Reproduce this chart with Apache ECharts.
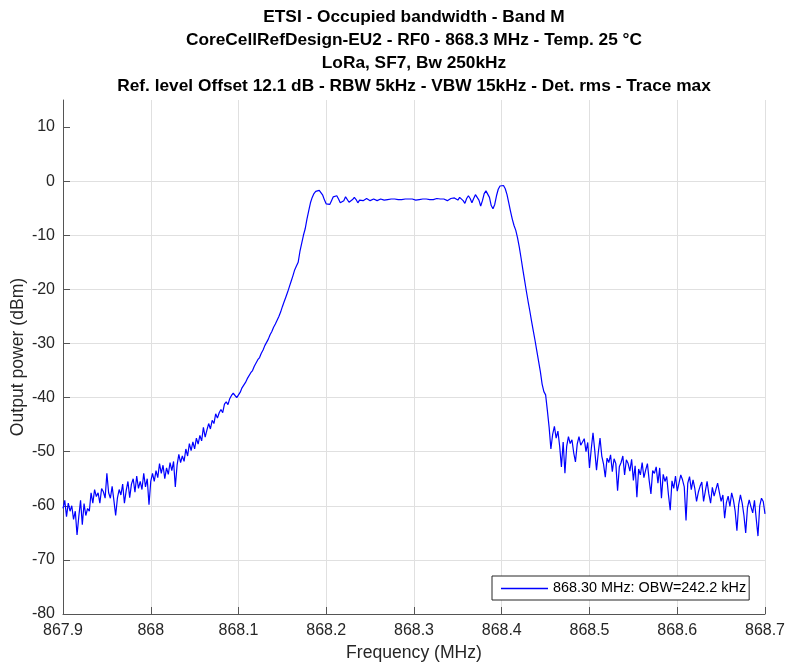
<!DOCTYPE html>
<html>
<head>
<meta charset="utf-8">
<script src="https://cdn.jsdelivr.net/npm/echarts@6/dist/echarts.min.js"></script>
<style>
html,body{margin:0;padding:0;background:#fff;}
#chart{width:787px;height:664px;}
</style>
</head>
<body>
<div id="chart"></div>
<script>
// ---- Data ----
const titleLines = [
  'ETSI - Occupied bandwidth - Band M',
  'CoreCellRefDesign-EU2 - RF0 - 868.3 MHz - Temp. 25 °C',
  'LoRa, SF7, Bw 250kHz',
  'Ref. level Offset 12.1 dB - RBW 5kHz - VBW 15kHz - Det. rms - Trace max'
];
const seriesName = '868.30 MHz: OBW=242.2 kHz';
const xTicks = [867.9, 868, 868.1, 868.2, 868.3, 868.4, 868.5, 868.6, 868.7];
const yTicks = [-80, -70, -60, -50, -40, -30, -20, -10, 0, 10];
// sweep grid: start frequency (MHz) and step (MHz)
const freqStart = 867.9;
const freqStep = 0.002;
// measured power (dBm), one value per sweep point (401 points)
const power = [
 -60.5,-59,-62,-59.5,-61,-60,-62.5,-61,-65.4,-62,
 -59,-63.5,-59.6,-61.8,-60.5,-61,-57.6,-59.5,-57,-58.3,
 -57.6,-59.5,-56.8,-57.4,-58.6,-54,-57.6,-58.6,-56.4,-59,
 -61.8,-58.6,-57,-58,-56,-59.5,-57.2,-55.5,-58.5,-56,
 -55,-57.5,-54.5,-56.8,-55.5,-57,-54,-56.5,-55,-59.8,
 -55.5,-54,-55.5,-53.5,-54.8,-52.2,-54,-52.5,-55,-53,
 -54.2,-52,-53.5,-51.8,-56.5,-52.5,-50.5,-52,-50.8,-51.8,
 -49.5,-50.8,-48.5,-49.8,-48.2,-49.5,-47.5,-48.6,-47,-48,
 -45.5,-47.3,-46,-44.8,-45.8,-44.2,-44.8,-43,-43.8,-42.8,
 -42.2,-42.8,-41.2,-40.8,-41.3,-40.2,-39.6,-39.2,-39.5,-40,
 -40.2,-39,-38.2,-37.7,-37.2,-36.5,-36.2,-35.4,-35,-34.2,
 -33.6,-33,-32.6,-31.8,-31.2,-30.4,-29.8,-29.2,-28.4,-27.8,
 -27,-26.4,-25.7,-25,-24.2,-23.2,-22.3,-21.4,-20.5,-19.5,
 -18.5,-17.5,-16.4,-15.7,-15,-13,-11.5,-10,-8.8,-7,
 -5.5,-4,-3,-2.3,-1.9,-1.7,-1.7,-1.9,-2.6,-3.5,
 -4.2,-4.5,-4.3,-3.6,-2.9,-2.6,-2.7,-3.3,-4,-4.3,
 -3.6,-2.9,-3.2,-3.9,-4.1,-3.4,-3,-3.4,-4,-3.5,
 -3.3,-3.6,-3.3,-3.2,-3.4,-3.6,-3.4,-3.3,-3.4,-3.6,
 -3.4,-3.3,-3.3,-3.5,-3.6,-3.4,-3.3,-3.3,-3.4,-3.3,
 -3.3,-3.4,-3.6,-3.4,-3.3,-3.3,-3.3,-3.3,-3.4,-3.3,
 -3.4,-3.5,-3.7,-3.4,-3.3,-3.3,-3.4,-3.3,-3.3,-3.4,
 -3.6,-3.4,-3.3,-3.2,-3.3,-3.3,-3.4,-3.3,-3.5,-3.6,
 -3.4,-3.2,-3.3,-3.1,-3.4,-3.5,-3.0,-2.9,-3.6,-4.1,
 -3.2,-2.7,-3.2,-4,-3.2,-2.5,-2.4,-3.5,-4.6,-3.6,
 -2.3,-1.8,-1.9,-3,-4.5,-5.1,-4.3,-2.7,-1.5,-0.9,
 -0.7,-0.8,-1.4,-2.5,-4,-5.6,-7,-8.2,-9.1,-10.5,
 -12.2,-14.2,-16.3,-18.3,-20.3,-22.2,-24,-25.9,-27.7,-29.5,
 -31.4,-33.3,-35.2,-37.5,-38.9,-39.5,-42.4,-45.5,-49.5,-46.8,
 -45.3,-47.5,-46.2,-49,-52.8,-48.2,-54,-49,-47.2,-48.5,
 -47.8,-50.2,-51.9,-48.6,-47.2,-48.8,-49,-47.6,-50,-48.3,
 -53,-49.5,-46.5,-49.8,-53.4,-50.2,-47.5,-50.8,-52.3,-54.7,
 -51.2,-52,-50.6,-53.7,-51.3,-52.2,-57.2,-52.8,-52,-50.8,
 -54.3,-51.5,-52.2,-53.6,-51.4,-55.3,-52.6,-58.4,-53.2,-54.3,
 -52,-54.8,-53.4,-52.2,-55.3,-57.8,-53.5,-54,-52.8,-55.8,
 -53,-58.6,-54.2,-55.5,-54.6,-58,-60.8,-55.4,-56.8,-54.5,
 -57.3,-55.8,-54.3,-55.2,-56.5,-62.7,-55.8,-54.6,-57,-55.2,
 -56.8,-59.2,-57.5,-56.4,-55.6,-59.2,-57.3,-55.5,-57.8,-59.5,
 -56.6,-58.2,-57,-55.8,-57.5,-59.2,-58,-62.3,-59.4,-58.2,
 -60.1,-57.6,-58.9,-61,-64.6,-59.8,-58,-59.5,-61.8,-65,
 -60.4,-58.9,-60.2,-61.3,-59,-62.4,-65.6,-60,-58.6,-59.2,
 -61.5
];

// ---- Chart ----
const FONT = "'Liberation Sans', Arial, Helvetica, sans-serif";
const AX = '#262626';
const seriesData = power.map((p, i) => [+(freqStart + freqStep * i).toFixed(4), p]);

const chart = echarts.init(document.getElementById('chart'), null, {renderer: 'canvas'});
chart.setOption({
  animation: false,
  backgroundColor: '#ffffff',
  title: {
    text: titleLines.join('\n'),
    left: 414,
    top: 6,
    padding: 0,
    textAlign: 'center',
    textStyle: {fontFamily: FONT, fontSize: 17.3, fontWeight: 'bold', color: '#000', lineHeight: 23}
  },
  legend: {
    data: [{name: seriesName, icon: 'rect'}],
    left: 492,
    top: 576,
    orient: 'vertical',
    padding: [4, 3, 3, 9],
    itemWidth: 47,
    itemHeight: 1.3,
    itemGap: 0,
    backgroundColor: '#ffffff',
    borderColor: AX,
    borderWidth: 1,
    borderRadius: 0,
    itemStyle: {color: '#0000ff', borderWidth: 0},
    textStyle: {fontFamily: FONT, fontSize: 14.4, color: '#000', lineHeight: 17}
  },
  grid: {left: 63, right: 22, top: 100, bottom: 50, containLabel: false, outerBoundsMode: 'none'},
  xAxis: {
    type: 'value',
    min: xTicks[0],
    max: xTicks[xTicks.length - 1],
    interval: 0.1,
    name: 'Frequency (MHz)',
    nameLocation: 'middle',
    nameGap: 29,
    nameTextStyle: {fontFamily: FONT, fontSize: 17.6, color: AX},
    axisLine: {show: true, onZero: false, lineStyle: {color: '#555', width: 1}},
    axisTick: {show: true, inside: true, length: 7, lineStyle: {color: '#555', width: 1}},
    axisLabel: {
      fontFamily: FONT, fontSize: 16, color: AX, margin: 9,
      formatter: v => String(parseFloat(Number(v).toFixed(1)))
    },
    splitLine: {show: true, lineStyle: {color: '#e0e0e0', width: 1}}
  },
  yAxis: {
    type: 'value',
    min: -80,
    max: 15,
    interval: 10,
    name: 'Output power (dBm)',
    nameLocation: 'middle',
    nameGap: 36,
    nameMoveOverlap: false,
    nameTextStyle: {fontFamily: FONT, fontSize: 17.6, color: AX},
    axisLine: {show: true, onZero: false, lineStyle: {color: '#555', width: 1}},
    axisTick: {show: true, inside: true, length: 7, lineStyle: {color: '#555', width: 1}, customValues: yTicks},
    axisLabel: {fontFamily: FONT, fontSize: 16, color: AX, margin: 8, customValues: yTicks},
    splitLine: {show: true, showMaxLine: false, lineStyle: {color: '#e0e0e0', width: 1}}
  },
  series: [{
    name: seriesName,
    type: 'line',
    data: seriesData,
    symbol: 'none',
    showSymbol: false,
    smooth: false,
    lineStyle: {color: '#0000ff', width: 1.2},
    itemStyle: {color: '#0000ff'}
  }]
});
</script>
</body>
</html>
